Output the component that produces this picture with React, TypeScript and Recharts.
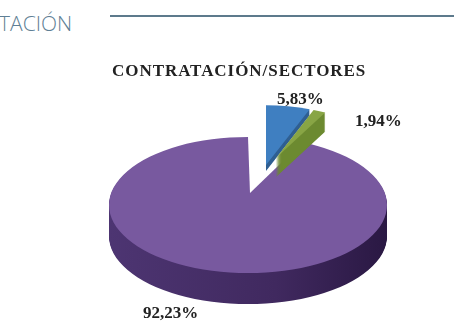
import React from "react";
import { PieChart, Pie, Cell } from "recharts";

const sectors = ["Sector A", "Sector B", "Sector C"];
const shares = [5.83, 1.94, 92.23];
const labels = ["5,83%", "1,94%", "92,23%"];
const title = "CONTRATACIÓN/SECTORES";
const heading = "TACIÓN";

const W = 454;
const H = 322;
const SQUASH = 0.49;
const R = 139;
const DEPTH = 31;
const sy = (y: number) => y / SQUASH;

const rows = sectors.map((name, i) => ({ name, value: shares[i] }));
const bigRow = [rows[2], { name: "rest", value: shares[0] + shares[1] }];
const START = 90 - 360 * ((shares[0] + shares[1]) / 100) + 1;

const steps = (n: number) => Array.from({ length: n }, (_, i) => n - i);

const PURPLE = "#78599f";
const BLUE = "#3f7fc1";
const GREEN = "#88a545";
const DARK_BLUE = "#2f5f92";
const DARK_GREEN = "#6c8a30";

function Slice({ cx, cy, r, color, keep, id }: { cx: number; cy: number; r: number; color: string; keep: number; id: string }) {
  return (
    <Pie
      key={id}
      data={rows}
      dataKey="value"
      cx={cx}
      cy={cy}
      outerRadius={r}
      innerRadius={0}
      startAngle={90}
      endAngle={-270}
      stroke="none"
      isAnimationActive={false}
      legendType="none"
    >
      {rows.map((row, i) => (
        <Cell key={row.name} fill={i === keep ? color : "transparent"} stroke="none" />
      ))}
    </Pie>
  );
}

const textStyle: React.CSSProperties = {
  position: "absolute",
  fontFamily: "'Liberation Serif', serif",
  fontWeight: 700,
  color: "#222222",
  whiteSpace: "nowrap",
  filter: "blur(0.6px)",
  lineHeight: 1,
};

export default function App() {
  return (
    <div style={{ position: "fixed", left: 0, top: 0, width: W, height: H, overflow: "hidden", background: "#fff" }}>
      <div
        style={{
          position: "absolute",
          left: -1,
          top: 12,
          fontFamily: "'Open Sans', sans-serif",
          fontWeight: 300,
          fontSize: 21,
          lineHeight: 1.1,
          color: "#5f7f95",
        }}
      >
        {heading}
      </div>
      <div style={{ position: "absolute", left: 110, top: 15, width: 344, height: 2, background: "#5d7a8c" }} />

      <div style={{ ...textStyle, left: 112, top: 62, fontSize: 17, letterSpacing: 0.95 }}>{title}</div>

      <div
        style={{
          position: "absolute",
          left: 0,
          top: 0,
          transform: `scaleY(${SQUASH})`,
          transformOrigin: "0 0",
          filter: "blur(0.7px)",
        }}
      >
        <PieChart width={W} height={H / SQUASH} margin={{ top: 0, right: 0, bottom: 0, left: 0 }}>
          <defs>
            <linearGradient id="side" gradientUnits="userSpaceOnUse" x1="109" y1="0" x2="387" y2="0">
              <stop offset="0" stopColor="#4d3572" />
              <stop offset="0.6" stopColor="#40295f" />
              <stop offset="1" stopColor="#2a1843" />
            </linearGradient>
          </defs>
          {steps(DEPTH).map((d) => (
            <Pie
              key={"side" + d}
              data={bigRow.slice(0, 1)}
              dataKey="value"
              cx={248}
              cy={sy(205 + d)}
              outerRadius={R}
              startAngle={0}
              endAngle={360}
              fill="url(#side)"
              stroke="none"
              isAnimationActive={false}
              legendType="none"
            />
          ))}
          <Pie
            data={bigRow.slice(0, 1)}
            dataKey="value"
            cx={248}
            cy={sy(205)}
            outerRadius={R}
            startAngle={0}
            endAngle={360}
            fill={PURPLE}
            stroke="none"
            isAnimationActive={false}
            legendType="none"
          />
          <Pie
            data={bigRow}
            dataKey="value"
            cx={250}
            cy={sy(193)}
            outerRadius={R + 40}
            startAngle={START}
            endAngle={START - 360}
            stroke="none"
            isAnimationActive={false}
            legendType="none"
          >
            <Cell fill="transparent" stroke="none" />
            <Cell fill="#ffffff" stroke="none" />
          </Pie>
          {steps(6).map((d) => Slice({ id: "bs" + d, cx: 266, cy: sy(165 + d), r: 122, color: DARK_BLUE, keep: 0 }))}
          {Slice({ id: "b", cx: 266, cy: sy(165), r: 122, color: BLUE, keep: 0 })}
          {steps(19).map((d) => Slice({ id: "gs" + d, cx: 276, cy: sy(158 + d), r: 105, color: DARK_GREEN, keep: 1 }))}
          {Slice({ id: "g", cx: 276, cy: sy(158), r: 105, color: GREEN, keep: 1 })}
        </PieChart>
      </div>

      <div style={{ ...textStyle, left: 277, top: 90, fontSize: 17 }}>{labels[0]}</div>
      <div style={{ ...textStyle, left: 355, top: 112, fontSize: 17 }}>{labels[1]}</div>
      <div style={{ ...textStyle, left: 143, top: 304, fontSize: 17 }}>{labels[2]}</div>
    </div>
  );
}
